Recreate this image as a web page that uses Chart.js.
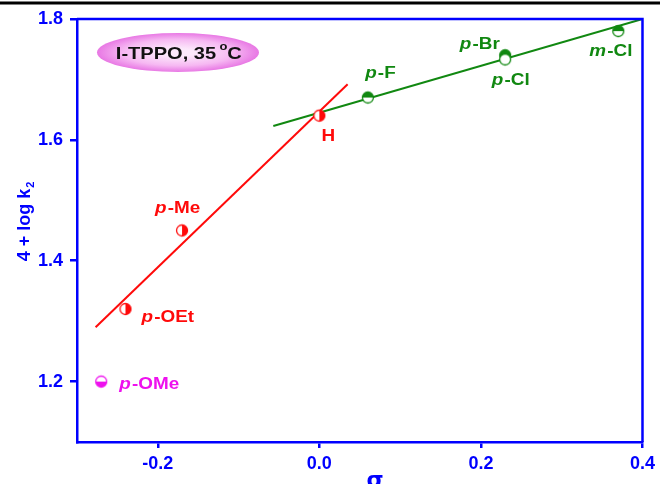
<!DOCTYPE html>
<html><head><meta charset="utf-8">
<script src="https://cdn.jsdelivr.net/npm/chart.js@4.4.1/dist/chart.umd.min.js"></script>
<style>html,body{margin:0;padding:0;background:#fff}#wrap{width:660px;height:484px;position:relative}</style>
</head><body><div id="wrap"><canvas id="c" width="660" height="484"></canvas></div>
<script>
// ---- data ----
const substituents = ['p-OMe','p-OEt','p-Me','H','p-F','p-Br','p-Cl','m-Cl'];
const sigma = [-0.27,-0.24,-0.17,0.00,0.06,0.23,0.23,0.37];
const logK  = [1.20,1.32,1.45,1.64,1.67,1.74,1.733,1.78];
const groupOf = ['magenta','red','red','red','green','green','green','green'];
const redFitX = [-0.277,0.035];
const redFitY = [1.290,1.692];
const greenFitX = [-0.057,0.40];
const greenFitY = [1.623,1.800];
const xTicks = [-0.2,0.0,0.2,0.4];
const yTicks = [1.2,1.4,1.6,1.8];
const titleText = 'I-TPPO, 35 ';
const xTitle = 'σ';
const yTitle = '4 + log k';

// ---- style ----
const COL = {magenta:'#ee11ee', red:'#ff0a0a', green:'#118811'};
const BLUE = '#0000ff';
const SX = 1.18; // horizontal stretch of text in the reference
const fills = ['bottom','right','right','right','top','full','none','top'];
const labelOff = [[18,3,'left'],[16,9,'left'],[-5,-22,'center'],[9,21,'center'],[12,-24,'center'],[-26,-11,'center'],[5,21,'center'],[-8,21,'center']];
const FF = '"Liberation Sans", Arial, sans-serif';

function marker(color, half){
  const c=document.createElement('canvas'); c.width=16; c.height=16;
  const g=c.getContext('2d'); const r=5.5, cx=8, cy=8;
  g.fillStyle='#fff'; g.beginPath(); g.arc(cx,cy,r,0,2*Math.PI); g.fill();
  g.fillStyle=color;
  if(half==='full'){g.beginPath();g.arc(cx,cy,r,0,2*Math.PI);g.fill();}
  else if(half==='right'){g.beginPath();g.arc(cx,cy,r,-Math.PI/2,Math.PI/2);g.closePath();g.fill();}
  else if(half==='bottom'){g.beginPath();g.arc(cx,cy,r,0,Math.PI);g.closePath();g.fill();}
  else if(half==='top'){g.beginPath();g.arc(cx,cy,r,Math.PI,2*Math.PI);g.closePath();g.fill();}
  g.strokeStyle=color; g.lineWidth=1.3; g.beginPath(); g.arc(cx,cy,r,0,2*Math.PI); g.stroke();
  return c;
}

function groupDataset(name){
  const idx = substituents.map((s,i)=>i).filter(i=>groupOf[i]===name);
  return {type:'scatter', order:1,
    data: idx.map(i=>({x:sigma[i], y:logK[i]})),
    pointStyle: idx.map(i=>marker(COL[name], fills[i])),
    pointRadius:6, pointHoverRadius:6, showLine:false};
}
function fitDataset(xs, ys, color){
  return {type:'line', order:2, data: xs.map((x,i)=>({x, y:ys[i]})),
    borderColor:color, borderWidth:2, pointRadius:0, fill:false, tension:0};
}

// draw a run of [text, font, dy, dx] pieces, horizontally stretched, anchored at x (left or center)
function drawRun(ctx, pieces, x, y, align, color){
  let widths = pieces.map(p=>{ctx.font=p[1]; return ctx.measureText(p[0]).width;});
  const total = widths.reduce((a,b)=>a+b,0);
  ctx.save(); ctx.translate(x,y); ctx.scale(SX,1);
  let cx = align==='left'?0:-total/2;
  ctx.fillStyle=color; ctx.textAlign='left';
  pieces.forEach((p,i)=>{ctx.font=p[1]; ctx.fillText(p[0],cx+(p[3]||0),p[2]||0); cx+=widths[i]+(p[3]||0);});
  ctx.restore();
}

const decor = {
  id:'decor',
  beforeDraw(chart){
    const ctx=chart.ctx; ctx.save();
    ctx.fillStyle='#000'; ctx.fillRect(0,1.5,660,3);
    ctx.restore();
  },
  afterDatasetsDraw(chart){
    const ctx=chart.ctx, xs=chart.scales.x, ys=chart.scales.y, a=chart.chartArea;
    ctx.save();
    // top & right borders
    ctx.strokeStyle=BLUE; ctx.lineWidth=2.5;
    ctx.beginPath(); ctx.moveTo(a.left,a.top); ctx.lineTo(a.right,a.top); ctx.lineTo(a.right,a.bottom); ctx.stroke();
    // point labels
    ctx.textBaseline='middle';
    const fI='italic bold 16px '+FF, fB='bold 16px '+FF;
    substituents.forEach((s,i)=>{
      const px=xs.getPixelForValue(sigma[i])+labelOff[i][0];
      const py=ys.getPixelForValue(logK[i])+labelOff[i][1];
      const k=s.indexOf('-');
      const pieces = k>=0 ? [[s.slice(0,k),fI,0,0],[s.slice(k),fB,0,1]] : [[s,fB,0,0]];
      drawRun(ctx,pieces,px,py,labelOff[i][2],COL[groupOf[i]]);
    });
    // title ellipse
    const cx=178, cy=52.5, rx=81, ry=19.5;
    ctx.save(); ctx.translate(cx,cy); ctx.scale(1, ry/rx);
    const grd=ctx.createRadialGradient(0,0,rx*0.2,0,0,rx);
    grd.addColorStop(0,'#fce8fb'); grd.addColorStop(0.6,'#f6b8f2'); grd.addColorStop(1,'#e878e4');
    ctx.fillStyle=grd; ctx.beginPath(); ctx.arc(0,0,rx,0,2*Math.PI); ctx.fill();
    ctx.restore();
    ctx.textBaseline='alphabetic';
    drawRun(ctx,[[titleText,'bold 17px '+FF,0,0],['o','bold 11px '+FF,-9,-2],['C','bold 17px '+FF,0,0]],cx+2,cy+6.5,'center','#111');
    // axis titles
    ctx.fillStyle=BLUE;
    ctx.font='bold 22px "DejaVu Sans", '+FF;
    ctx.textAlign='center'; ctx.fillText(xTitle,375,487);
    ctx.save(); ctx.translate(30,222); ctx.rotate(-Math.PI/2);
    ctx.font='bold 18px '+FF;
    const yw=ctx.measureText(yTitle).width;
    ctx.font='bold 11px '+FF;
    const sw=ctx.measureText('2').width;
    ctx.textAlign='left';
    ctx.font='bold 18px '+FF;
    ctx.fillText(yTitle,-(yw+sw)/2,0);
    ctx.font='bold 11px '+FF;
    ctx.fillText('2',-(yw+sw)/2+yw+1,4);
    ctx.restore();
    ctx.restore();
  }
};

const tickFont={family:FF, size:18, weight:'bold'};
new Chart(document.getElementById('c'),{
  data:{datasets:[
    fitDataset(redFitX, redFitY, COL.red),
    fitDataset(greenFitX, greenFitY, COL.green),
    groupDataset('magenta'), groupDataset('red'), groupDataset('green')
  ]},
  options:{
    responsive:false, animation:false, devicePixelRatio:1,
    layout:{padding:{left:0,top:19,right:14,bottom:0}},
    plugins:{legend:{display:false}, tooltip:{enabled:false}},
    scales:{
      x:{type:'linear', min:-0.3, max:0.4,
        afterBuildTicks:s=>{s.ticks=xTicks.map(v=>({value:v}));},
        afterFit:s=>{s.height=42;},
        ticks:{color:BLUE, font:tickFont, padding:5, callback:v=>Number(v).toFixed(1), maxRotation:0, autoSkip:false},
        grid:{drawOnChartArea:false, drawTicks:true, tickLength:6, color:BLUE, lineWidth:2.5},
        border:{color:BLUE, width:2.5}},
      y:{type:'linear', min:1.1, max:1.8,
        afterBuildTicks:s=>{s.ticks=yTicks.map(v=>({value:v}));},
        afterFit:s=>{s.width=77;},
        ticks:{color:BLUE, font:tickFont, padding:7, callback:v=>Number(v).toFixed(1), autoSkip:false},
        grid:{drawOnChartArea:false, drawTicks:true, tickLength:7, color:BLUE, lineWidth:2.5},
        border:{color:BLUE, width:2.5}}
    }
  },
  plugins:[decor]
});
</script></body></html>
